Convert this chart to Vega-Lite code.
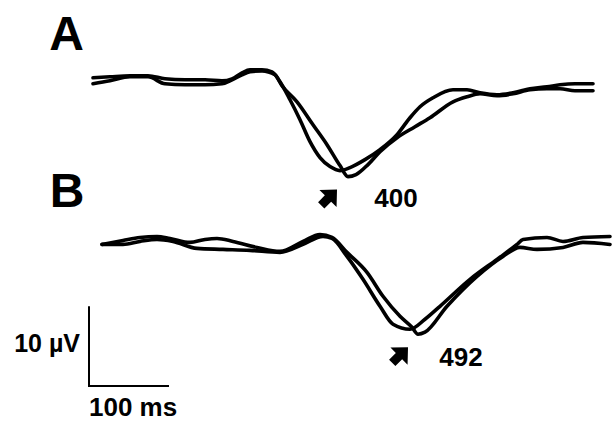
{
  "$schema": "https://vega.github.io/schema/vega-lite/v6.json",
  "width": 612,
  "height": 421,
  "padding": 0,
  "autosize": {"type": "fit", "contains": "padding"},
  "background": "white",
  "config": {"view": {"stroke": null}},
  "datasets": {
    "traces": [
      {"trace": "A1", "t": 5, "v": 38.625},
      {"trace": "A1", "t": 26.25, "v": 38.75},
      {"trace": "A1", "t": 51.25, "v": 38.875},
      {"trace": "A1", "t": 73.75, "v": 38.875},
      {"trace": "A1", "t": 95, "v": 38.5},
      {"trace": "A1", "t": 120, "v": 38.375},
      {"trace": "A1", "t": 145, "v": 38.375},
      {"trace": "A1", "t": 166.25, "v": 38.25},
      {"trace": "A1", "t": 178.75, "v": 38.5},
      {"trace": "A1", "t": 191.25, "v": 39.25},
      {"trace": "A1", "t": 201.25, "v": 39.625},
      {"trace": "A1", "t": 216.25, "v": 39.625},
      {"trace": "A1", "t": 228.75, "v": 39.375},
      {"trace": "A1", "t": 238.75, "v": 38.125},
      {"trace": "A1", "t": 251.25, "v": 35.875},
      {"trace": "A1", "t": 263.75, "v": 33.375},
      {"trace": "A1", "t": 276.25, "v": 30.625},
      {"trace": "A1", "t": 288.75, "v": 28.625},
      {"trace": "A1", "t": 301.25, "v": 27.5},
      {"trace": "A1", "t": 313.75, "v": 27.0},
      {"trace": "A1", "t": 326.25, "v": 27.375},
      {"trace": "A1", "t": 345, "v": 28.375},
      {"trace": "A1", "t": 363.75, "v": 29.625},
      {"trace": "A1", "t": 385, "v": 31.5},
      {"trace": "A1", "t": 401.25, "v": 33.625},
      {"trace": "A1", "t": 413.75, "v": 35.0},
      {"trace": "A1", "t": 430, "v": 36.125},
      {"trace": "A1", "t": 455, "v": 37.125},
      {"trace": "A1", "t": 472.5, "v": 37.125},
      {"trace": "A1", "t": 488.75, "v": 36.75},
      {"trace": "A1", "t": 510, "v": 36.5},
      {"trace": "A1", "t": 530, "v": 36.75},
      {"trace": "A1", "t": 551.25, "v": 37.25},
      {"trace": "A1", "t": 572.5, "v": 37.5},
      {"trace": "A1", "t": 588.75, "v": 37.75},
      {"trace": "A1", "t": 607.5, "v": 37.875},
      {"trace": "A1", "t": 630, "v": 37.875},
      {"trace": "A2", "t": 5, "v": 37.875},
      {"trace": "A2", "t": 26.25, "v": 38.25},
      {"trace": "A2", "t": 51.25, "v": 38.75},
      {"trace": "A2", "t": 73.75, "v": 38.75},
      {"trace": "A2", "t": 95, "v": 37.875},
      {"trace": "A2", "t": 120, "v": 37.75},
      {"trace": "A2", "t": 145, "v": 37.75},
      {"trace": "A2", "t": 166.25, "v": 37.875},
      {"trace": "A2", "t": 178.75, "v": 38.375},
      {"trace": "A2", "t": 191.25, "v": 39.0},
      {"trace": "A2", "t": 201.25, "v": 39.375},
      {"trace": "A2", "t": 216.25, "v": 39.5},
      {"trace": "A2", "t": 232.5, "v": 39.0},
      {"trace": "A2", "t": 241.25, "v": 37.625},
      {"trace": "A2", "t": 260, "v": 35.625},
      {"trace": "A2", "t": 280, "v": 32.75},
      {"trace": "A2", "t": 297.5, "v": 30.25},
      {"trace": "A2", "t": 313.75, "v": 27.625},
      {"trace": "A2", "t": 323.75, "v": 26.25},
      {"trace": "A2", "t": 333.75, "v": 26.5},
      {"trace": "A2", "t": 348.75, "v": 27.75},
      {"trace": "A2", "t": 363.75, "v": 29.375},
      {"trace": "A2", "t": 385, "v": 31.125},
      {"trace": "A2", "t": 407.5, "v": 32.5},
      {"trace": "A2", "t": 426.25, "v": 33.625},
      {"trace": "A2", "t": 455, "v": 35.625},
      {"trace": "A2", "t": 472.5, "v": 36.25},
      {"trace": "A2", "t": 488.75, "v": 36.625},
      {"trace": "A2", "t": 510, "v": 36.375},
      {"trace": "A2", "t": 530, "v": 36.625},
      {"trace": "A2", "t": 551.25, "v": 37.125},
      {"trace": "A2", "t": 572.5, "v": 37.25},
      {"trace": "A2", "t": 588.75, "v": 37.25},
      {"trace": "A2", "t": 607.5, "v": 37.0},
      {"trace": "A2", "t": 630, "v": 37.0},
      {"trace": "B1", "t": 16.25, "v": 17.75},
      {"trace": "B1", "t": 42.5, "v": 18.25},
      {"trace": "B1", "t": 63.75, "v": 18.625},
      {"trace": "B1", "t": 85, "v": 18.75},
      {"trace": "B1", "t": 101.25, "v": 18.5},
      {"trace": "B1", "t": 126.25, "v": 18.0},
      {"trace": "B1", "t": 145, "v": 18.375},
      {"trace": "B1", "t": 160, "v": 18.5},
      {"trace": "B1", "t": 180, "v": 18.125},
      {"trace": "B1", "t": 210, "v": 17.375},
      {"trace": "B1", "t": 238.75, "v": 16.875},
      {"trace": "B1", "t": 267.5, "v": 18.125},
      {"trace": "B1", "t": 288.75, "v": 19.0},
      {"trace": "B1", "t": 303.75, "v": 18.625},
      {"trace": "B1", "t": 322.5, "v": 16.75},
      {"trace": "B1", "t": 347.5, "v": 14.25},
      {"trace": "B1", "t": 367.5, "v": 11.25},
      {"trace": "B1", "t": 388.75, "v": 8.75},
      {"trace": "B1", "t": 403.75, "v": 7.375},
      {"trace": "B1", "t": 411.25, "v": 6.5},
      {"trace": "B1", "t": 420, "v": 6.75},
      {"trace": "B1", "t": 447.5, "v": 10.0},
      {"trace": "B1", "t": 485, "v": 13.75},
      {"trace": "B1", "t": 517.5, "v": 16.25},
      {"trace": "B1", "t": 538.75, "v": 17.375},
      {"trace": "B1", "t": 560, "v": 17.125},
      {"trace": "B1", "t": 592.5, "v": 17.375},
      {"trace": "B1", "t": 617.5, "v": 18.0},
      {"trace": "B1", "t": 651.25, "v": 17.75},
      {"trace": "B2", "t": 16.25, "v": 17.75},
      {"trace": "B2", "t": 42.5, "v": 17.75},
      {"trace": "B2", "t": 63.75, "v": 18.125},
      {"trace": "B2", "t": 85, "v": 18.375},
      {"trace": "B2", "t": 105, "v": 18.125},
      {"trace": "B2", "t": 135, "v": 17.25},
      {"trace": "B2", "t": 167.5, "v": 17.125},
      {"trace": "B2", "t": 201.25, "v": 17.0},
      {"trace": "B2", "t": 238.75, "v": 16.75},
      {"trace": "B2", "t": 267.5, "v": 17.75},
      {"trace": "B2", "t": 292.5, "v": 18.75},
      {"trace": "B2", "t": 303.75, "v": 18.5},
      {"trace": "B2", "t": 322.5, "v": 16.25},
      {"trace": "B2", "t": 342.5, "v": 13.375},
      {"trace": "B2", "t": 363.75, "v": 10.0},
      {"trace": "B2", "t": 380, "v": 7.75},
      {"trace": "B2", "t": 401.25, "v": 7.125},
      {"trace": "B2", "t": 420, "v": 8.375},
      {"trace": "B2", "t": 438.75, "v": 10.0},
      {"trace": "B2", "t": 476.25, "v": 13.375},
      {"trace": "B2", "t": 510, "v": 15.875},
      {"trace": "B2", "t": 535, "v": 17.75},
      {"trace": "B2", "t": 542.5, "v": 18.375},
      {"trace": "B2", "t": 572.5, "v": 18.625},
      {"trace": "B2", "t": 592.5, "v": 18.125},
      {"trace": "B2", "t": 617.5, "v": 18.625},
      {"trace": "B2", "t": 651.25, "v": 18.75}
    ],
    "scalebar": [
      {"k": 1, "t": 0, "v": 10},
      {"k": 2, "t": 0, "v": 0},
      {"k": 3, "t": 100, "v": 0}
    ],
    "panels": [
      {"label": "A", "t": -28.1, "v": 42.1},
      {"label": "B", "t": -27.5, "v": 22.4}
    ],
    "latencies": [
      {"label": "400", "t": 383.75, "v": 22.4},
      {"label": "492", "t": 465, "v": 2.5}
    ],
    "arrows": [
      {"panel": "A", "t": 298.75, "v": 23.5},
      {"panel": "B", "t": 387.5, "v": 3.75}
    ],
    "ylabel": [{"label": "10 µV", "t": -11.25, "v": 4.25}],
    "xlabel": [{"label": "100 ms", "t": 0, "v": -3.75}]
  },
  "layer": [
    {
      "data": {"name": "traces"},
      "mark": {"type": "line", "color": "black", "strokeWidth": 3.6, "interpolate": "monotone", "strokeCap": "round", "strokeJoin": "round"},
      "encoding": {
        "x": {"field": "t", "type": "quantitative", "scale": {"domain": [-111.25, 653.75], "nice": false, "zero": false}, "axis": null},
        "y": {"field": "v", "type": "quantitative", "scale": {"domain": [-4.25, 48.375], "nice": false, "zero": false}, "axis": null},
        "detail": {"field": "trace"}
      }
    },
    {
      "data": {"name": "scalebar"},
      "mark": {"type": "line", "color": "black", "strokeWidth": 2},
      "encoding": {
        "x": {"field": "t", "type": "quantitative"},
        "y": {"field": "v", "type": "quantitative"},
        "order": {"field": "k"}
      }
    },
    {
      "data": {"name": "panels"},
      "mark": {"type": "text", "font": "Liberation Sans", "fontWeight": "bold", "fontSize": 48, "align": "center", "baseline": "alphabetic", "color": "black"},
      "encoding": {
        "x": {"field": "t", "type": "quantitative"},
        "y": {"field": "v", "type": "quantitative"},
        "text": {"field": "label"}
      }
    },
    {
      "data": {"name": "latencies"},
      "mark": {"type": "text", "font": "Liberation Sans", "fontWeight": "bold", "fontSize": 26, "align": "center", "baseline": "alphabetic", "color": "black"},
      "encoding": {
        "x": {"field": "t", "type": "quantitative"},
        "y": {"field": "v", "type": "quantitative"},
        "text": {"field": "label"}
      }
    },
    {
      "data": {"name": "ylabel"},
      "mark": {"type": "text", "font": "Liberation Sans", "fontWeight": "bold", "fontSize": 25, "align": "right", "baseline": "alphabetic", "color": "black"},
      "encoding": {
        "x": {"field": "t", "type": "quantitative"},
        "y": {"field": "v", "type": "quantitative"},
        "text": {"field": "label"}
      }
    },
    {
      "data": {"name": "xlabel"},
      "mark": {"type": "text", "font": "Liberation Sans", "fontWeight": "bold", "fontSize": 26, "align": "left", "baseline": "alphabetic", "color": "black"},
      "encoding": {
        "x": {"field": "t", "type": "quantitative"},
        "y": {"field": "v", "type": "quantitative"},
        "text": {"field": "label"}
      }
    },
    {
      "data": {"name": "arrows"},
      "mark": {"type": "point", "filled": true, "color": "black", "opacity": 1, "size": 650, "angle": 45, "shape": "M0,-1 L0.95,0 L0.35,0 L0.35,0.75 L-0.35,0.75 L-0.35,0 L-0.95,0 Z"},
      "encoding": {
        "x": {"field": "t", "type": "quantitative"},
        "y": {"field": "v", "type": "quantitative"}
      }
    }
  ]
}
